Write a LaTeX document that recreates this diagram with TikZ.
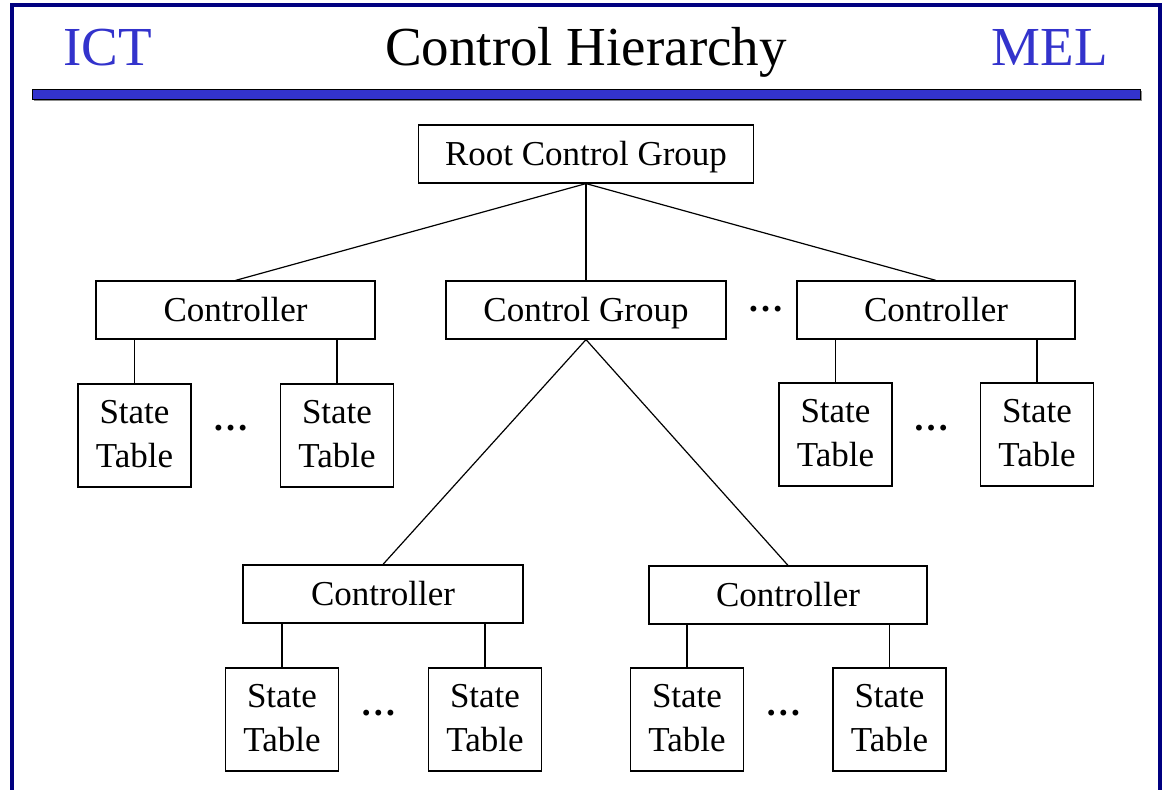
\documentclass[tikz,border=0pt]{standalone}
\usepackage{fontspec}
\setmainfont{Liberation Serif}
\definecolor{navyf}{RGB}{0,0,128}
\definecolor{hblue}{RGB}{51,51,204}
\tikzset{
  box/.style={draw=black, line width=1.2pt, rectangle, inner sep=0pt,
    minimum height=58pt, font=\fontsize{35}{44}\selectfont,
    text height=23pt, text depth=0pt},
  stbox/.style={draw=black, line width=1.2pt, rectangle, inner sep=0pt,
    minimum width=113pt, minimum height=103pt, align=center,
    font=\fontsize{35}{44}\selectfont, text height=68pt, text depth=4pt},
  conn/.style={draw=black, line width=1.2pt},
  dotsnode/.style={anchor=base, inner sep=0pt, font=\fontsize{36}{40}\selectfont\bfseries},
  headtext/.style={inner sep=0pt, font=\fontsize{55}{60}\selectfont}
}
\begin{document}
\begin{tikzpicture}[x=1pt,y=-1pt]
\useasboundingbox (0,0) rectangle (1163,790);
% frame
\draw[navyf, line width=4pt] (12,790) -- (12,5) -- (1160,5) -- (1160,790);
% header
\node[headtext, anchor=base west, text=hblue] (ict) at (63,65) {ICT};
\node[headtext, anchor=base] (title) at (586,65) {Control Hierarchy};
\node[headtext, anchor=base east, text=hblue] (mel) at (1108,65) {MEL};
\fill[black!45] (33.5,90.5) rectangle (1141.5,100.5);
\draw[black, line width=0.8pt, fill=hblue] (32,89) rectangle (1140,99);
% nodes
\node[box, minimum width=335pt] (root) at (586,154) {Root Control Group};
\node[box, minimum width=280pt] (cg) at (586,310) {Control Group};
\node[box, minimum width=279pt] (cl) at (235.5,310) {Controller};
\node[box, minimum width=278pt] (cr) at (936,310) {Controller};
\node[box, minimum width=280pt] (ll) at (383,594) {Controller};
\node[box, minimum width=278pt] (lr) at (788,595) {Controller};
\node[stbox] (l1) at (134.5,435.5) {State\\Table};
\node[stbox] (l2) at (337,435.5) {State\\Table};
\node[stbox] (r1) at (835.5,434.5) {State\\Table};
\node[stbox] (r2) at (1037,434.5) {State\\Table};
\node[stbox] (ll1) at (282,719.5) {State\\Table};
\node[stbox] (ll2) at (485,719.5) {State\\Table};
\node[stbox] (lr1) at (687,719.5) {State\\Table};
\node[stbox] (lr2) at (889.5,719.5) {State\\Table};
% dots
\node[dotsnode] (d1) at (230.5,430) {…};
\node[dotsnode] (d2) at (931,430) {…};
\node[dotsnode] (d3) at (765.5,311.5) {…};
\node[dotsnode] (d4) at (378.4,715) {…};
\node[dotsnode] (d5) at (783.4,715) {…};
% connectors
\draw[conn] (root.south) -- (cl.north);
\draw[conn] (root.south) -- (cg.north);
\draw[conn] (root.south) -- (cr.north);
\draw[conn] (cg.south) -- (ll.north);
\draw[conn] (cg.south) -- (lr.north);
\draw[conn] (cl.south -| l1.north) -- (l1.north);
\draw[conn] (cl.south -| l2.north) -- (l2.north);
\draw[conn] (cr.south -| r1.north) -- (r1.north);
\draw[conn] (cr.south -| r2.north) -- (r2.north);
\draw[conn] (ll.south -| ll1.north) -- (ll1.north);
\draw[conn] (ll.south -| ll2.north) -- (ll2.north);
\draw[conn] (lr.south -| lr1.north) -- (lr1.north);
\draw[conn] (lr.south -| lr2.north) -- (lr2.north);
\end{tikzpicture}
\end{document}
